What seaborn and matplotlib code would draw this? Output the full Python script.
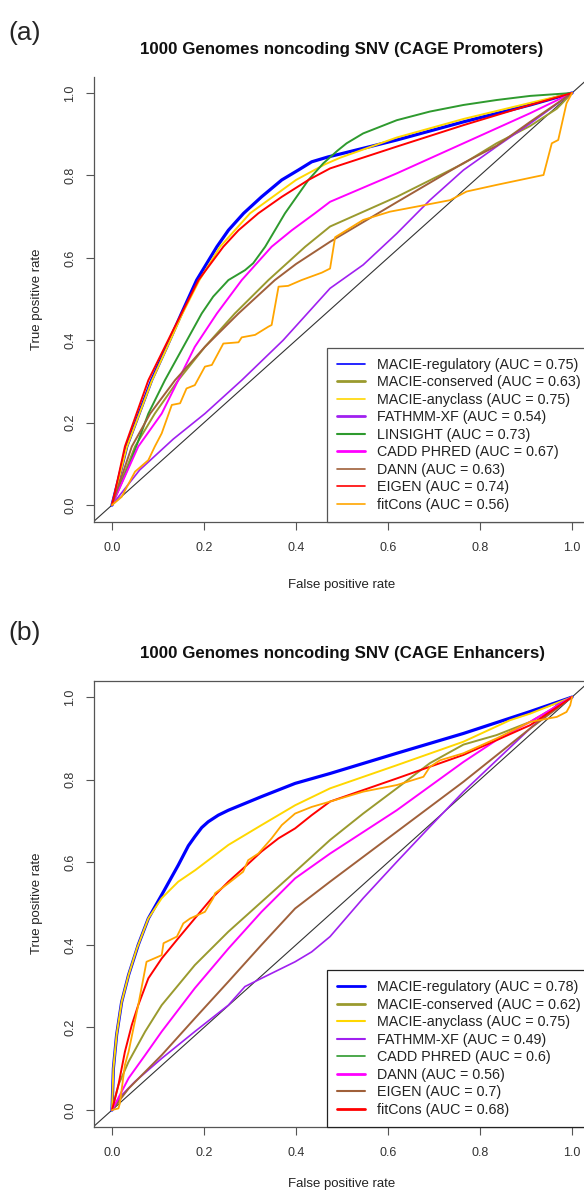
import numpy as np
import pandas as pd
import matplotlib
matplotlib.use("Agg")
import matplotlib.pyplot as plt
import seaborn as sns
from matplotlib.lines import Line2D

# ---------------- data: panel (a) CAGE Promoters ----------------
A_LABELS = ["MACIE-regulatory (AUC = 0.75)", "MACIE-conserved (AUC = 0.63)",
            "MACIE-anyclass (AUC = 0.75)", "FATHMM-XF (AUC = 0.54)",
            "LINSIGHT (AUC = 0.73)", "CADD PHRED (AUC = 0.67)",
            "DANN (AUC = 0.63)", "EIGEN (AUC = 0.74)", "fitCons (AUC = 0.56)"]

a_reg_x = [0, 0.014, 0.032, 0.086, 0.119, 0.151, 0.184, 0.228, 0.253, 0.286, 0.325, 0.369, 0.405, 0.434, 0.470, 0.496, 0.619, 0.764, 0.909, 1.0]
a_reg_y = [0, 0.061, 0.142, 0.303, 0.384, 0.465, 0.546, 0.627, 0.667, 0.708, 0.748, 0.789, 0.813, 0.833, 0.845, 0.852, 0.886, 0.930, 0.971, 1.0]

a_con_x = [0, 0.050, 0.093, 0.144, 0.202, 0.267, 0.340, 0.420, 0.474, 0.619, 0.764, 0.836, 0.909, 0.967, 1.0]
a_con_y = [0, 0.142, 0.222, 0.303, 0.384, 0.465, 0.546, 0.627, 0.676, 0.748, 0.829, 0.878, 0.920, 0.962, 1.0]

a_any_x = [0, 0.014, 0.032, 0.086, 0.151, 0.190, 0.235, 0.300, 0.400, 0.463, 0.496, 0.619, 0.764, 0.909, 1.0]
a_any_y = [0, 0.060, 0.140, 0.300, 0.460, 0.546, 0.627, 0.708, 0.789, 0.827, 0.843, 0.892, 0.937, 0.976, 1.0]

a_fat_x = [0, 0.060, 0.133, 0.202, 0.282, 0.372, 0.474, 0.546, 0.619, 0.691, 0.764, 0.836, 0.909, 1.0]
a_fat_y = [0, 0.085, 0.160, 0.222, 0.303, 0.400, 0.526, 0.583, 0.659, 0.740, 0.813, 0.870, 0.926, 1.0]

a_lin_x = [0, 0.039, 0.079, 0.115, 0.155, 0.195, 0.220, 0.253, 0.289, 0.307, 0.333, 0.376, 0.427, 0.459, 0.490, 0.510, 0.546, 0.619, 0.691, 0.764, 0.836, 0.909, 1.0]
a_lin_y = [0, 0.101, 0.222, 0.303, 0.384, 0.465, 0.506, 0.546, 0.570, 0.587, 0.627, 0.708, 0.789, 0.829, 0.860, 0.878, 0.902, 0.934, 0.955, 0.971, 0.983, 0.993, 1.0]

a_cad_x = [0, 0.057, 0.108, 0.144, 0.180, 0.228, 0.282, 0.347, 0.391, 0.441, 0.474, 0.619, 0.764, 0.909, 1.0]
a_cad_y = [0, 0.142, 0.222, 0.303, 0.384, 0.465, 0.546, 0.627, 0.667, 0.708, 0.736, 0.805, 0.878, 0.951, 1.0]

a_dan_x = [0, 0.043, 0.083, 0.137, 0.202, 0.275, 0.354, 0.400, 0.474, 0.619, 0.764, 0.836, 0.909, 1.0]
a_dan_y = [0, 0.142, 0.222, 0.303, 0.384, 0.465, 0.546, 0.585, 0.639, 0.735, 0.830, 0.872, 0.930, 1.0]

a_eig_x = [0, 0.012, 0.028, 0.079, 0.133, 0.188, 0.242, 0.275, 0.318, 0.369, 0.427, 0.474, 0.619, 0.764, 0.909, 1.0]
a_eig_y = [0, 0.060, 0.142, 0.303, 0.425, 0.546, 0.627, 0.667, 0.708, 0.748, 0.789, 0.817, 0.870, 0.922, 0.971, 1.0]

a_fit_x = [0, 0.021, 0.050, 0.079, 0.093, 0.108, 0.130, 0.148, 0.162, 0.180, 0.202, 0.217, 0.242, 0.275, 0.282, 0.311, 0.340, 0.347, 0.362, 0.383, 0.412, 0.456, 0.474, 0.485, 0.546, 0.604, 0.670, 0.735, 0.771, 0.836, 0.938, 0.956, 0.970, 0.988, 1.0]
a_fit_y = [0, 0.020, 0.081, 0.109, 0.142, 0.174, 0.243, 0.247, 0.283, 0.291, 0.336, 0.340, 0.392, 0.395, 0.407, 0.413, 0.433, 0.437, 0.530, 0.532, 0.546, 0.564, 0.574, 0.650, 0.692, 0.712, 0.726, 0.740, 0.761, 0.777, 0.801, 0.878, 0.886, 0.975, 1.0]

# ---------------- data: panel (b) CAGE Enhancers ----------------
B_LABELS = ["MACIE-regulatory (AUC = 0.78)", "MACIE-conserved (AUC = 0.62)",
            "MACIE-anyclass (AUC = 0.75)", "FATHMM-XF (AUC = 0.49)",
            "CADD PHRED (AUC = 0.6)", "DANN (AUC = 0.56)",
            "EIGEN (AUC = 0.7)", "fitCons (AUC = 0.68)"]

b_reg_x = [0, 0.003, 0.010, 0.021, 0.036, 0.057, 0.079, 0.108, 0.144, 0.166, 0.180, 0.195, 0.209, 0.231, 0.253, 0.325, 0.398, 0.474, 0.619, 0.764, 0.909, 1.0]
b_reg_y = [0, 0.101, 0.182, 0.262, 0.327, 0.400, 0.464, 0.521, 0.593, 0.640, 0.662, 0.684, 0.698, 0.714, 0.726, 0.759, 0.791, 0.815, 0.864, 0.912, 0.965, 1.0]

b_con_x = [0, 0.014, 0.036, 0.072, 0.108, 0.180, 0.253, 0.325, 0.398, 0.474, 0.546, 0.619, 0.691, 0.764, 0.836, 0.909, 1.0]
b_con_y = [0, 0.061, 0.117, 0.190, 0.254, 0.351, 0.432, 0.504, 0.577, 0.654, 0.718, 0.779, 0.840, 0.885, 0.908, 0.940, 1.0]

b_any_x = [0, 0.003, 0.010, 0.021, 0.036, 0.054, 0.079, 0.108, 0.144, 0.181, 0.253, 0.325, 0.398, 0.474, 0.619, 0.764, 0.865, 0.909, 1.0]
b_any_y = [0, 0.101, 0.182, 0.262, 0.327, 0.391, 0.464, 0.513, 0.553, 0.581, 0.642, 0.690, 0.738, 0.779, 0.835, 0.892, 0.944, 0.960, 1.0]

b_fat_x = [0, 0.021, 0.050, 0.108, 0.180, 0.253, 0.289, 0.325, 0.398, 0.434, 0.474, 0.546, 0.619, 0.691, 0.764, 0.836, 0.909, 0.967, 1.0]
b_fat_y = [0, 0.036, 0.069, 0.125, 0.190, 0.254, 0.299, 0.319, 0.359, 0.383, 0.420, 0.513, 0.601, 0.686, 0.771, 0.847, 0.924, 0.981, 1.0]

b_cad_x = [0, 0.017, 0.036, 0.072, 0.108, 0.180, 0.253, 0.325, 0.398, 0.474, 0.619, 0.764, 0.836, 0.909, 1.0]
b_cad_y = [0, 0.036, 0.077, 0.133, 0.190, 0.295, 0.391, 0.480, 0.561, 0.621, 0.726, 0.843, 0.896, 0.940, 1.0]

b_dan_x = [0, 0.036, 0.108, 0.180, 0.253, 0.325, 0.398, 0.474, 0.619, 0.764, 0.909, 1.0]
b_dan_y = [0, 0.052, 0.133, 0.222, 0.311, 0.400, 0.488, 0.553, 0.674, 0.795, 0.924, 1.0]

b_eig_x = [0, 0.014, 0.028, 0.043, 0.057, 0.079, 0.108, 0.144, 0.180, 0.217, 0.253, 0.289, 0.325, 0.362, 0.398, 0.434, 0.474, 0.619, 0.764, 0.909, 1.0]
b_eig_y = [0, 0.061, 0.141, 0.206, 0.254, 0.319, 0.367, 0.416, 0.464, 0.513, 0.553, 0.589, 0.626, 0.658, 0.682, 0.714, 0.747, 0.803, 0.860, 0.932, 1.0]

b_fit_x = [0, 0.014, 0.017, 0.028, 0.036, 0.057, 0.075, 0.108, 0.112, 0.141, 0.155, 0.170, 0.202, 0.220, 0.224, 0.253, 0.285, 0.296, 0.318, 0.347, 0.369, 0.398, 0.434, 0.474, 0.546, 0.619, 0.677, 0.691, 0.713, 0.764, 0.836, 0.909, 0.967, 0.988, 0.996, 1.0]
b_fit_y = [0, 0.004, 0.016, 0.109, 0.141, 0.254, 0.359, 0.375, 0.404, 0.420, 0.452, 0.464, 0.480, 0.513, 0.525, 0.549, 0.577, 0.605, 0.621, 0.658, 0.690, 0.718, 0.734, 0.747, 0.771, 0.787, 0.807, 0.831, 0.847, 0.864, 0.900, 0.940, 0.952, 0.964, 0.980, 1.0]

TICKS = [0.0, 0.2, 0.4, 0.6, 0.8, 1.0]
TICK_LABELS = ["0.0", "0.2", "0.4", "0.6", "0.8", "1.0"]

C_BLUE, C_OLIVE, C_GOLD, C_PURPLE = "#0000FF", "#9A9A2E", "#FFD700", "#A020F0"
C_GREEN, C_MAGENTA, C_BROWN, C_RED, C_ORANGE = "#2E9A2E", "#FF00FF", "#A0603A", "#FF0000", "#FFA500"
C_AXIS = "#555555"
C_TEXT = "#333333"

sns.set_theme(style="ticks")
plt.rcParams["font.family"] = ["Liberation Sans", "DejaVu Sans"]

fig = plt.figure(figsize=(5.84, 11.94), dpi=100)
ax1 = fig.add_axes([0.1603, 0.5632, 0.8507, 0.3727])
ax2 = fig.add_axes([0.1603, 0.0565, 0.8507, 0.3735])


def draw_curves(ax, curves):
    for name, xs, ys, col, lw in curves:
        df = pd.DataFrame({"fpr": xs, "tpr": ys, "model": name})
        sns.lineplot(data=df, x="fpr", y="tpr", color=col, linewidth=lw,
                     sort=False, estimator=None, ax=ax, legend=False)


def style_axes(ax, title, xpad):
    ax.set_xlim(-0.04, 1.04)
    ax.set_ylim(-0.04, 1.04)
    ax.axline((0, 0), (1, 1), color="#333333", lw=0.8, zorder=0)
    ax.set_xticks(TICKS)
    ax.set_xticklabels(TICK_LABELS)
    ax.set_yticks(TICKS)
    ax.set_yticklabels(TICK_LABELS, rotation=90, va="center")
    ax.tick_params(direction="out", length=6, width=0.8, labelsize=9,
                   color=C_AXIS, labelcolor=C_TEXT)
    ax.tick_params(axis="x", pad=8.5)
    ax.tick_params(axis="y", pad=6.5)
    ax.set_xlabel("False positive rate", fontsize=9.5, labelpad=xpad, color="#222222")
    ax.set_ylabel("True positive rate", fontsize=9.5, labelpad=15, color="#222222")
    ax.set_title(title, fontsize=12.2, fontweight="bold", pad=16, color="#111111")
    for s in ["left", "bottom", "top", "right"]:
        ax.spines[s].set_color(C_AXIS)
        ax.spines[s].set_linewidth(0.9)
    ax.grid(False)


draw_curves(ax1, [
    ("reg", a_reg_x, a_reg_y, C_BLUE, 2.3),
    ("con", a_con_x, a_con_y, C_OLIVE, 1.4),
    ("any", a_any_x, a_any_y, C_GOLD, 1.4),
    ("fat", a_fat_x, a_fat_y, C_PURPLE, 1.2),
    ("lin", a_lin_x, a_lin_y, C_GREEN, 1.4),
    ("cad", a_cad_x, a_cad_y, C_MAGENTA, 1.4),
    ("dan", a_dan_x, a_dan_y, C_BROWN, 1.4),
    ("eig", a_eig_x, a_eig_y, C_RED, 1.4),
    ("fit", a_fit_x, a_fit_y, C_ORANGE, 1.3),
])
style_axes(ax1, "1000 Genomes noncoding SNV (CAGE Promoters)", 18)
ax1.spines["top"].set_visible(False)

draw_curves(ax2, [
    ("reg", b_reg_x, b_reg_y, C_BLUE, 2.3),
    ("con", b_con_x, b_con_y, C_OLIVE, 1.4),
    ("any", b_any_x, b_any_y, C_GOLD, 1.4),
    ("fat", b_fat_x, b_fat_y, C_PURPLE, 1.2),
    ("dan", b_dan_x, b_dan_y, C_BROWN, 1.4),
    ("cad", b_cad_x, b_cad_y, C_MAGENTA, 1.4),
    ("eig", b_eig_x, b_eig_y, C_RED, 1.4),
    ("fit", b_fit_x, b_fit_y, C_ORANGE, 1.3),
])
style_axes(ax2, "1000 Genomes noncoding SNV (CAGE Enhancers)", 14)

a_leg_cols = [C_BLUE, C_OLIVE, C_GOLD, C_PURPLE, C_GREEN, C_MAGENTA, C_BROWN, C_RED, C_ORANGE]
a_leg_lw = [1.2, 2.0, 1.2, 2.0, 1.5, 2.0, 1.2, 1.2, 1.2]
b_leg_cols = [C_BLUE, C_OLIVE, C_GOLD, C_PURPLE, C_GREEN, C_MAGENTA, C_BROWN, C_RED]
b_leg_lw = [2.0, 2.0, 1.5, 1.5, 1.2, 2.0, 1.5, 2.0]


def add_legend(ax, labels, cols, lws, edge):
    handles = [Line2D([0], [0], color=c, lw=w) for c, w in zip(cols, lws)]
    leg = ax.legend(handles, labels, loc="lower right", fontsize=10.3,
                    frameon=True, fancybox=False, borderaxespad=0,
                    handlelength=1.9, handletextpad=0.84, labelspacing=0.24,
                    borderpad=0.7, framealpha=1)
    leg.get_frame().set_edgecolor(edge)
    leg.get_frame().set_linewidth(0.9)
    for t in leg.get_texts():
        t.set_color("#222222")


add_legend(ax1, A_LABELS, a_leg_cols, a_leg_lw, "#555555")
add_legend(ax2, B_LABELS, b_leg_cols, b_leg_lw, "#222222")

fig.text(0.015, 0.972, "(a)", fontsize=19, ha="left", va="center")
fig.text(0.015, 0.470, "(b)", fontsize=19, ha="left", va="center")

fig.savefig("out.png", dpi=100)
